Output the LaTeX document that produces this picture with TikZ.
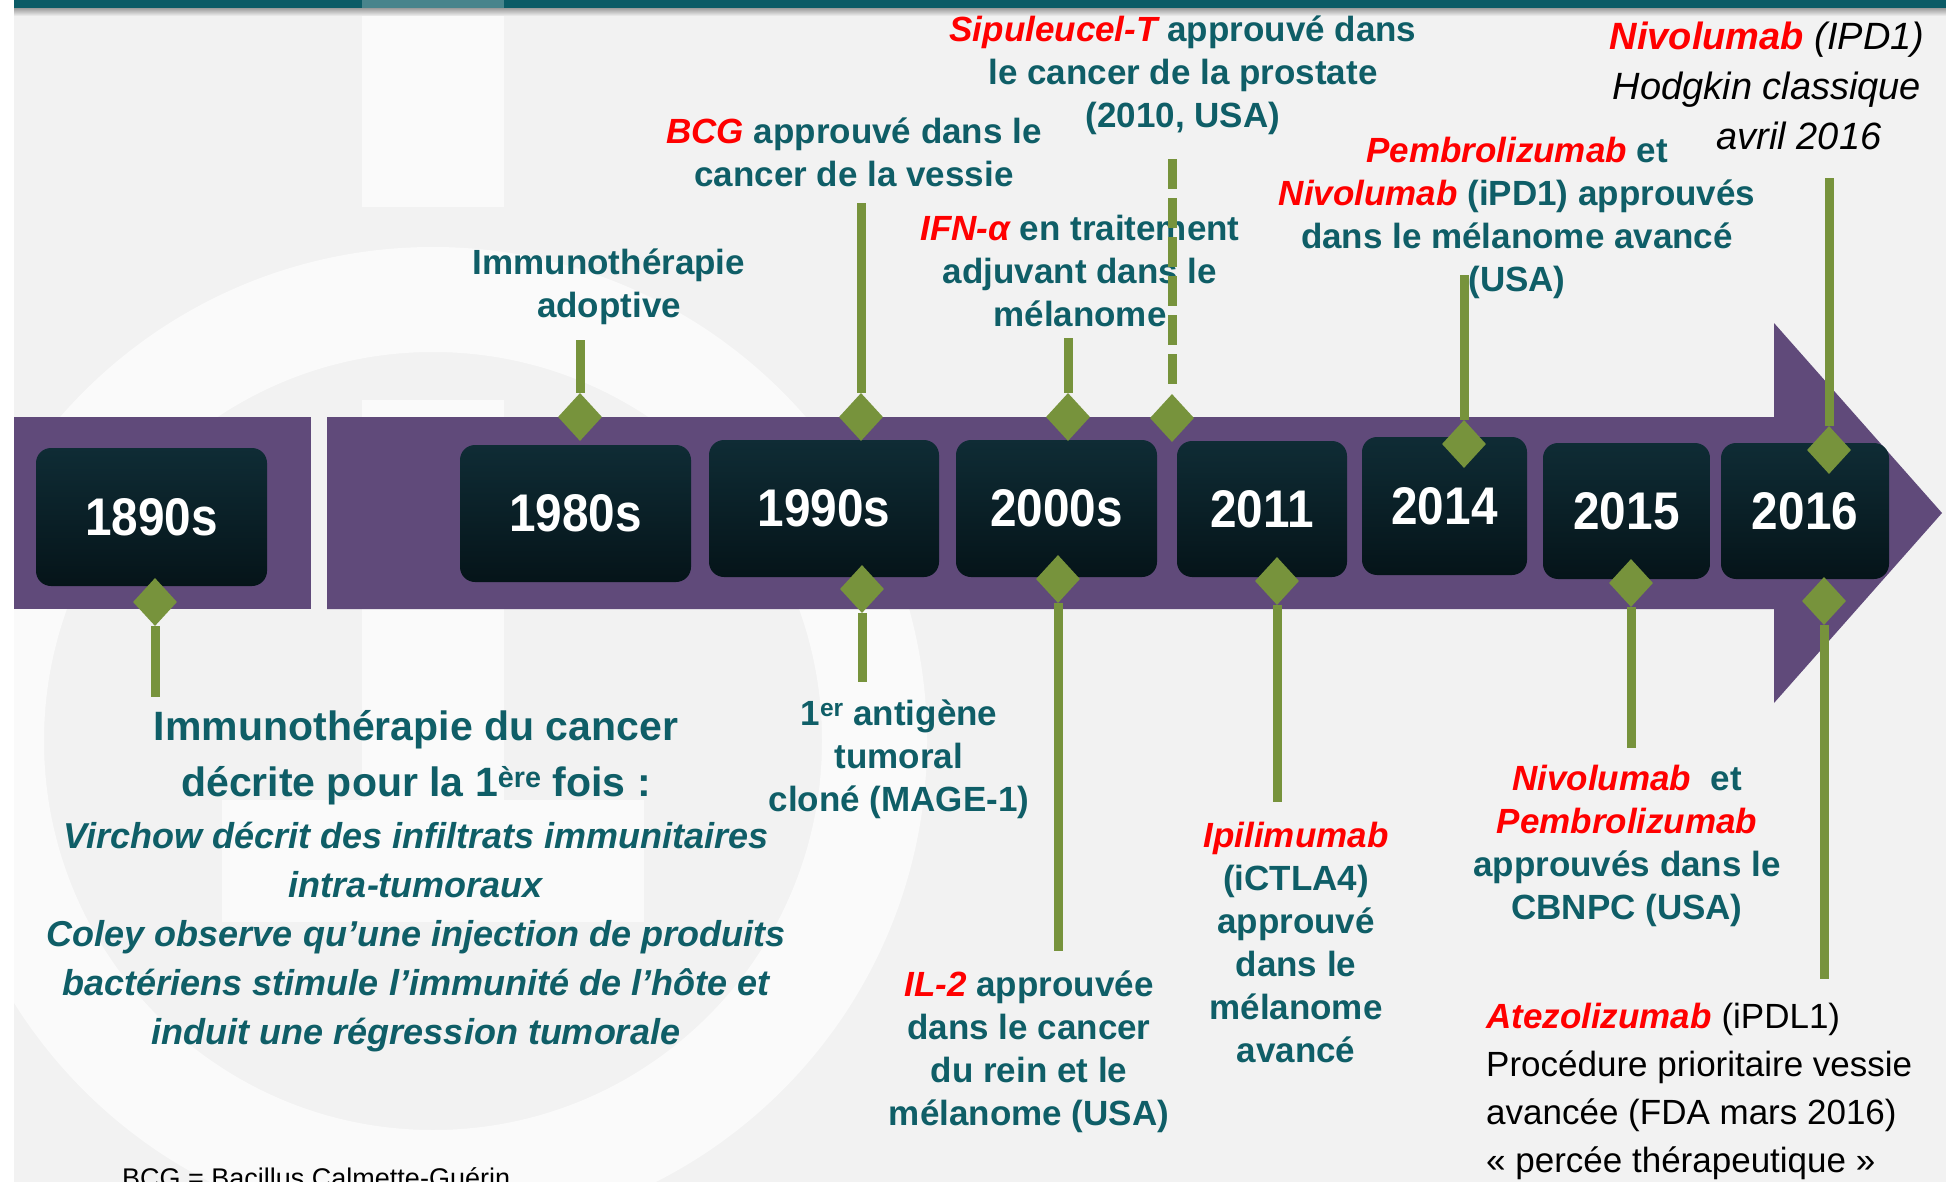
\documentclass[tikz,border=0pt]{standalone}
\usepackage{fontspec}
\setmainfont{Liberation Sans}
\usetikzlibrary{shapes.geometric}

\definecolor{bg}{HTML}{F2F2F2}
\definecolor{logotint}{HTML}{FAFAFA}
\definecolor{topbar}{HTML}{0B5B66}
\definecolor{band}{HTML}{604A7A}
\definecolor{boxtop}{HTML}{0F2C35}
\definecolor{boxbot}{HTML}{051419}
\definecolor{leaf}{HTML}{77933C}
\definecolor{ink}{HTML}{0F5E67}
\definecolor{alert}{HTML}{FF0000}

\newcommand\drug[1]{\textcolor{alert}{\bfseries\itshape #1}}
\newcommand\notefont{\fontsize{35}{43}\selectfont\bfseries}
\newcommand\yearfont{\fontsize{53}{60}\selectfont\bfseries\addfontfeatures{FakeStretch=0.9}}

\begin{document}
\begin{tikzpicture}[x=1pt,y=-1pt,
  yearbox/.style={rounded corners=15pt, top color=boxtop, bottom color=boxbot,
    text=white, font=\yearfont, inner sep=0pt},
  gem/.style={diamond, fill=leaf, minimum width=44pt, minimum height=48pt, inner sep=0pt},
  stem/.style={draw=leaf, line width=9pt},
  dashstem/.style={stem, dash pattern=on 30pt off 9pt},
  note/.style={text=ink, align=center, inner sep=0pt, anchor=north, font=\notefont},
]
\useasboundingbox (0,0) rectangle (1946,1182);

% page background and faint logo
\fill[bg] (0,0) rectangle (1946,1182);
\fill[logotint, even odd rule] (433,741) circle[radius=494pt] (433,741) circle[radius=389pt];
\fill[logotint] (362,9) rectangle (504,207);
\fill[logotint] (362,400) rectangle (504,800);
\fill[logotint] (222,800) rectangle (644,922);
\fill[white] (0,0) rectangle (14,1182);

% header strip with its shadow
\fill[topbar] (14,0) rectangle (1946,9);
\fill[white, opacity=0.25] (362,0) rectangle (504,9);
\shade[top color=black!35, bottom color=bg] (14,9) rectangle (1946,16);

% purple time band with arrow head
\fill[band] (14,417) rectangle (311,609);
\fill[band] (327,417) -- (1774,417) -- (1774,323) -- (1942,513)
  -- (1774,703) -- (1774,609) -- (327,609) -- cycle;

% year boxes
\node[yearbox, minimum width=231pt, minimum height=138pt] (y1890) at (151.5,517) {1890s};
\node[yearbox, minimum width=231pt, minimum height=137pt] (y1980) at (575.5,513.5) {1980s};
\node[yearbox, minimum width=230pt, minimum height=137pt] (y1990) at (824,508.5) {1990s};
\node[yearbox, minimum width=201pt, minimum height=137pt] (y2000) at (1056.5,508.5) {2000s};
\node[yearbox, minimum width=170pt, minimum height=136pt] (y2011) at (1262,509) {2011};
\node[yearbox, minimum width=165pt, minimum height=138pt] (y2014) at (1444.5,506) {2014};
\node[yearbox, minimum width=167pt, minimum height=136pt] (y2015) at (1626.5,511) {2015};
\node[yearbox, minimum width=168pt, minimum height=136pt] (y2016) at (1805,511) {2016};

% captions above the band
\node[note] (n1980) at (609,249) {Immunothérapie\\adoptive};
\node[note] (n1990) at (854,118) {\drug{BCG} approuvé dans le\\cancer de la vessie};
\node[note] (n2010) at (1183,16) {\drug{Sipuleucel-T} approuvé dans\\le cancer de la prostate\\(2010, USA)};
\node[note] (n2000) at (1080,215) {\drug{IFN-α} en traitement\\adjuvant dans le\\mélanome};
\node[note] (n2014) at (1517,137) {\drug{Pembrolizumab} et\\\drug{Nivolumab} (iPD1) approuvés\\dans le mélanome avancé\\(USA)};
\node[note, text=black, font=\fontsize{38}{50}\selectfont\itshape] (n2016a) at (1767,22)
  {\textcolor{alert}{\bfseries Nivolumab} (IPD1)\\Hodgkin classique\\\hspace*{64pt}avril 2016};

% captions below the band
\node[note, font=\fontsize{41}{56}\selectfont\bfseries] (n1890) at (416,710)
  {Immunothérapie du cancer\\décrite pour la 1\textsuperscript{ère} fois :};
\node[note, font=\fontsize{36}{49}\selectfont\bfseries\itshape] (n1890b) at (416,822)
  {Virchow décrit des infiltrats immunitaires\\intra-tumoraux\\Coley observe qu’une injection de produits\\bactériens stimule l’immunité de l’hôte et\\induit une régression tumorale};
\node[note] (n1990b) at (899,700) {1\textsuperscript{er} antigène\\tumoral\\cloné (MAGE-1)};
\node[note] (n2000b) at (1029,971) {\drug{IL-2} approuvée\\dans le cancer\\du rein et le\\mélanome (USA)};
\node[note] (n2011) at (1296,822) {\drug{Ipilimumab}\\(iCTLA4)\\approuvé\\dans le\\mélanome\\avancé};
\node[note] (n2015) at (1627,765) {\drug{Nivolumab}\ \ et\\\drug{Pembrolizumab}\\approuvés dans le\\CBNPC (USA)};
\node[note, anchor=north west, align=left, text=black, font=\fontsize{35}{48}\selectfont] (n2016b) at (1486,1003)
  {\drug{Atezolizumab} (iPDL1)\\Procédure prioritaire vessie\\avancée (FDA mars 2016)\\« percée thérapeutique »};
\node[anchor=base west, inner sep=0pt, font=\fontsize{27}{31}\selectfont] (foot) at (122,1187)
  {BCG = Bacillus Calmette-Guérin};

% markers on the band
\node[gem] (g1980) at (580,417) {};
\node[gem] (g1990) at (861,417) {};
\node[gem] (g2000) at (1068,417) {};
\node[gem] (g2010) at (1172,418) {};
\node[gem] (g2014) at (1464,444) {};
\node[gem] (g2016a) at (1829,450) {};
\node[gem] (g1890) at (155,602) {};
\node[gem] (g1990b) at (862,589) {};
\node[gem] (g2000b) at (1058,579) {};
\node[gem] (g2011) at (1277,581) {};
\node[gem] (g2015) at (1631,583) {};
\node[gem] (g2016b) at (1824,601) {};

% free ends of the stems
\coordinate (e1980) at (580,340);
\coordinate (e1990) at (861,203);
\coordinate (e2000) at (1068,338);
\coordinate (e2010) at (1172,152);
\coordinate (e2014) at (1464,275);
\coordinate (e2016a) at (1829,178);
\coordinate (e1890) at (155,697);
\coordinate (e1990b) at (862,682);
\coordinate (e2000b) at (1058,951);
\coordinate (e2011) at (1277,802);
\coordinate (e2015) at (1631,748);
\coordinate (e2016b) at (1824,979);

% stems
\draw[stem] (g1980) -- (e1980);
\draw[stem] (g1990) -- (e1990);
\draw[stem] (g2000) -- (e2000);
\draw[dashstem] ([yshift=10pt]g2010.north) -- (e2010);
\draw[stem] (g2014) -- (e2014);
\draw[stem] (g2016a) -- (e2016a);
\draw[stem] (g1890) -- (e1890);
\draw[stem] (g1990b) -- (e1990b);
\draw[stem] (g2000b) -- (e2000b);
\draw[stem] (g2011) -- (e2011);
\draw[stem] (g2015) -- (e2015);
\draw[stem] (g2016b) -- (e2016b);
\end{tikzpicture}
\end{document}
